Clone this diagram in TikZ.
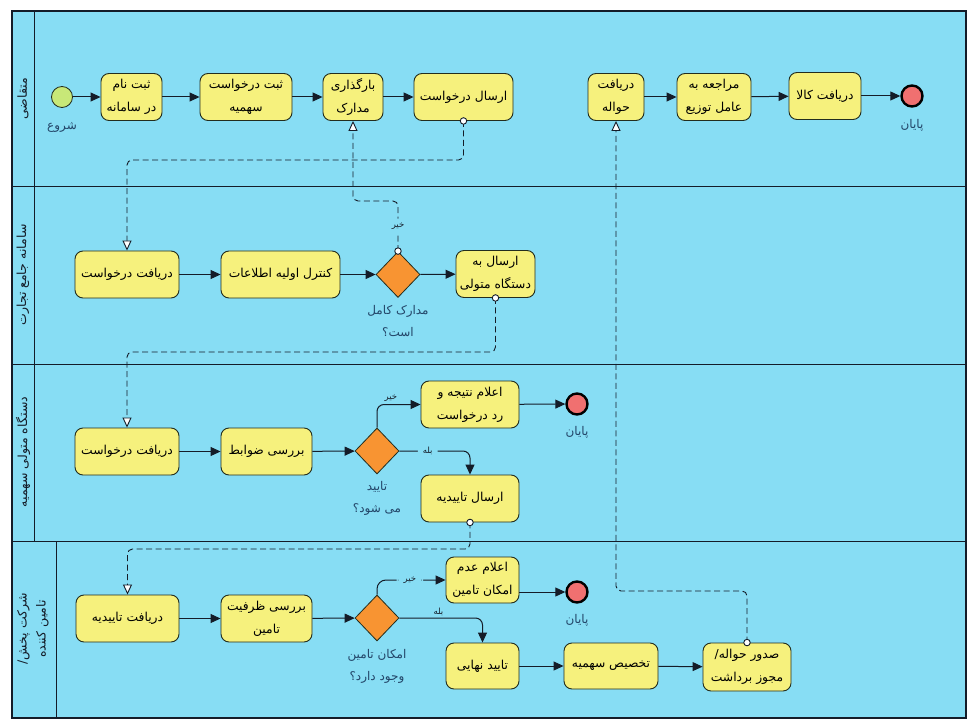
\documentclass[tikz,border=0pt]{standalone}
\usepackage{fontspec}
\newfontfamily\arabicfont[Script=Arabic]{DejaVu Sans}
\TeXXeTstate=1
\usetikzlibrary{arrows.meta,shapes.geometric}
\newcommand{\fa}[1]{\beginR#1\endR}
\definecolor{lanebg}{RGB}{135,221,244}
\definecolor{taskfill}{RGB}{246,241,125}
\definecolor{taskdraw}{RGB}{35,45,30}
\definecolor{gatefill}{RGB}{248,148,50}
\definecolor{startfill}{RGB}{200,232,120}
\definecolor{endfill}{RGB}{240,112,112}
\definecolor{linecol}{RGB}{20,28,40}
\definecolor{labcol}{RGB}{35,70,105}
\tikzset{
  task/.style={draw=taskdraw, line width=0.9pt, fill=taskfill, rounded corners=8pt,
    minimum height=47pt, inner sep=1pt, align=center,
    font=\arabicfont\fontsize{12.3}{23}\selectfont},
  gate/.style={diamond, draw=taskdraw, fill=gatefill, minimum width=44pt,
    minimum height=46pt, inner sep=0pt, line width=0.8pt},
  startev/.style={circle, draw=taskdraw, fill=startfill, minimum size=21pt,
    inner sep=0pt, line width=0.8pt},
  endev/.style={circle, draw=black, fill=endfill, minimum size=21pt,
    inner sep=0pt, line width=2.4pt},
  seq/.style={draw=linecol, line width=1pt, -{Triangle[length=10pt,width=9pt]}},
  msg/.style={draw=linecol, line width=0.9pt, dash pattern=on 6pt off 3.5pt,
    rounded corners=5pt, -{Triangle[length=10pt,width=9pt,fill=white]}},
  msgdot/.style={circle, draw=linecol, fill=white, minimum size=6.5pt,
    inner sep=0pt, line width=0.9pt},
  evlabel/.style={font=\arabicfont\fontsize{12}{22}\selectfont, text=labcol, align=center},
  flowlab/.style={font=\arabicfont\fontsize{8.5}{9}\selectfont, text=linecol, inner sep=1pt},
  lanelab/.style={rotate=90, font=\arabicfont\fontsize{12.5}{19}\selectfont,
    text=linecol, align=center}
}
\begin{document}
\begin{tikzpicture}[x=1pt,y=-1pt]
\useasboundingbox (0,0) rectangle (974,727);
% pool and lanes
\fill[lanebg] (12,11) rectangle (966,718);
\draw[linecol, line width=1pt] (12,187) -- (966,187);
\draw[linecol, line width=1pt] (12,364) -- (966,364);
\draw[linecol, line width=1pt] (12,541) -- (966,541);
\draw[linecol, line width=1pt] (34,11) -- (34,541);
\draw[linecol, line width=1pt] (56,541) -- (56,718);
\draw[linecol, line width=1.2pt] (12,11) rectangle (966,718);
\node[lanelab] (lane1) at (23,99) {\fa{متقاضی}};
\node[lanelab] (lane2) at (23,275) {\fa{سامانه جامع تجارت}};
\node[lanelab] (lane3) at (23,452) {\fa{دستگاه متولی سهمیه}};
\node[lanelab] (lane4) at (33,629) {\fa{شرکت پخش/}\\\fa{تامین کننده}};

% lane 1
\node[startev] (st) at (62,97) {};
\node[evlabel] (stl) at (62,127) {\fa{شروع}};
\node[task, minimum width=61pt] (t1) at (131.5,97) {\fa{ثبت نام}\\\fa{در سامانه}};
\node[task, minimum width=92pt] (t2) at (246,97) {\fa{ثبت درخواست}\\\fa{سهمیه}};
\node[task, minimum width=60pt] (t3) at (353,97) {\fa{بارگذاری}\\\fa{مدارک}};
\node[task, minimum width=99pt] (t4) at (463.5,97) {\fa{ارسال درخواست}};
\node[task, minimum width=56pt] (t5) at (616,97) {\fa{دریافت}\\\fa{حواله}};
\node[task, minimum width=74pt] (t6) at (714,97) {\fa{مراجعه به}\\\fa{عامل توزیع}};
\node[task, minimum width=72pt] (t7) at (825,96) {\fa{دریافت کالا}};
\node[endev] (e1) at (912,96) {};
\node[evlabel] (e1l) at (912,125) {\fa{پایان}};

% lane 2
\node[task, minimum width=104pt] (a1) at (127,274.5) {\fa{دریافت درخواست}};
\node[task, minimum width=119pt] (a2) at (280.5,274.5) {\fa{کنترل اولیه اطلاعات}};
\node[gate] (g1) at (398,274.5) {};
\node[evlabel] (g1l) at (398,321) {\fa{مدارک کامل}\\\fa{است؟}};
\node[task, minimum width=79pt] (a3) at (495.5,274) {\fa{ارسال به}\\\fa{دستگاه متولی}};

% lane 3
\node[task, minimum width=104pt] (b1) at (127,451.5) {\fa{دریافت درخواست}};
\node[task, minimum width=91pt] (b2) at (266.5,451.5) {\fa{بررسی ضوابط}};
\node[gate] (g2) at (377,451) {};
\node[evlabel] (g2l) at (377,498) {\fa{تایید}\\\fa{می شود؟}};
\node[task, minimum width=98pt] (b3) at (470,404.5) {\fa{اعلام نتیجه و}\\\fa{رد درخواست}};
\node[endev] (e2) at (577,404) {};
\node[evlabel] (e2l) at (577,432) {\fa{پایان}};
\node[task, minimum width=98pt] (b4) at (470,498.5) {\fa{ارسال تاییدیه}};

% lane 4
\node[task, minimum width=103pt] (c1) at (127.5,618.5) {\fa{دریافت تاییدیه}};
\node[task, minimum width=91pt] (c2) at (266.5,618.5) {\fa{بررسی ظرفیت}\\\fa{تامین}};
\node[gate] (g3) at (377,618) {};
\node[evlabel] (g3l) at (377,666) {\fa{امکان تامین}\\\fa{وجود دارد؟}};
\node[task, minimum width=73pt, minimum height=46pt] (c3) at (482.5,580) {\fa{اعلام عدم}\\\fa{امکان تامین}};
\node[endev] (e3) at (577,592) {};
\node[evlabel] (e3l) at (577,620) {\fa{پایان}};
\node[task, minimum width=73pt, minimum height=46pt] (c4) at (482.5,666) {\fa{تایید نهایی}};
\node[task, minimum width=94pt, minimum height=46pt] (c5) at (611,666) {\fa{تخصیص سهمیه}};
\node[task, minimum width=88pt, minimum height=48pt] (c6) at (747,667) {\fa{صدور حواله/}\\\fa{مجوز برداشت}};

% sequence flows
\draw[seq] (st) -- (t1);
\draw[seq] (t1) -- (t2);
\draw[seq] (t2) -- (t3);
\draw[seq] (t3) -- (t4);
\draw[seq] (t5) -- (t6);
\draw[seq] (t6) -- (t7);
\draw[seq] (t7) -- (e1);
\draw[seq] (a1) -- (a2);
\draw[seq] (a2) -- (g1);
\draw[seq] (g1) -- (a3);
\draw[seq] (b1) -- (b2);
\draw[seq] (b2) -- (g2);
\draw[seq, rounded corners=7pt] (g2.north) |- node[flowlab, pos=0.66, above=1pt] (no1) {\fa{خیر}} (b3.west);
\draw[seq, rounded corners=7pt] (g2.east) -| node[flowlab, fill=lanebg, pos=0.2, inner xsep=5pt] (yes1) {\fa{بله}} (b4.north);
\draw[seq] (b3) -- (e2);
\draw[seq] (c1) -- (c2);
\draw[seq] (c2) -- (g3);
\draw[seq, rounded corners=9pt] (g3.north) |- node[flowlab, fill=lanebg, pos=0.74, inner xsep=7pt] (no2) {\fa{خیر}} (c3.west);
\draw[seq, rounded corners=7pt] (g3.east) -| node[flowlab, pos=0.235, above=1pt] (yes2) {\fa{بله}} (c4.north);
\draw[seq] (c3.east |- e3.west) -- (e3.west);
\draw[seq] (c4) -- (c5);
\draw[seq] (c5) -- (c6);

% message flows
\draw[msg] (t4.south) -- (t4.south |- 0,160) -| (a1.north);
\draw[msg] (g1.north) -- node[flowlab, fill=lanebg, inner ysep=4pt] (no0) {\fa{خیر}} (g1.north |- 0,201) -| (t3.south);
\draw[msg] (a3.south) -- (a3.south |- 0,352) -| (b1.north);
\draw[msg] (b4.south) -- (b4.south |- 0,549) -| (c1.north);
\draw[msg] (c6.north) -- (c6.north |- 0,591) -| (t5.south);
\node[msgdot] (d1) at (t4.south) {};
\node[msgdot] (d2) at (g1.north) {};
\node[msgdot] (d3) at (a3.south) {};
\node[msgdot] (d4) at (b4.south) {};
\node[msgdot] (d5) at (c6.north) {};
\end{tikzpicture}
\end{document}
